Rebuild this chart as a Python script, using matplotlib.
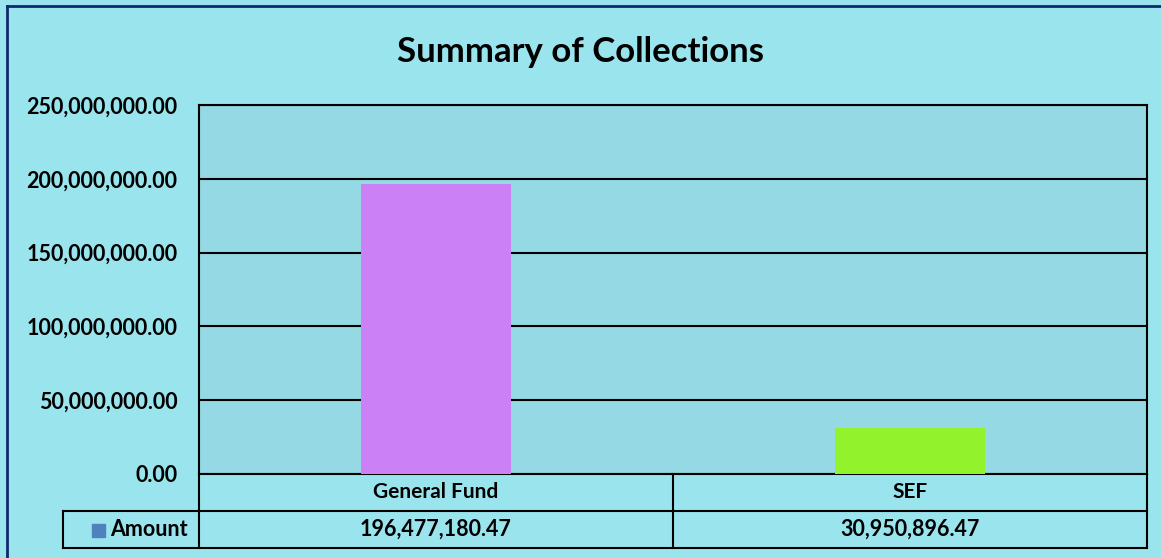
import matplotlib.pyplot as plt
from matplotlib.lines import Line2D
from matplotlib.patches import Rectangle
import numpy as np

categories = ["General Fund", "SEF"]
amounts = [196477180.47, 30950896.47]
series_name = "Amount"
title = "Summary of Collections"
yticks = [0, 50000000, 100000000, 150000000, 200000000, 250000000]

bar_colors = ["#CC80F5", "#92F22B"]
fig_bg = "#9AE4ED"
plot_bg = "#94D9E3"

plt.rcParams['font.family'] = ['Lato', 'DejaVu Sans']
plt.rcParams['font.weight'] = 'bold'

W, H = 1161, 558
fig = plt.figure(figsize=(W / 100, H / 100), dpi=100, facecolor=fig_bg)

# plot area in pixels
x0, x1, y0, y1 = 199, 1147, 105, 474
ax = fig.add_axes([x0 / W, 1 - y1 / H, (x1 - x0) / W, (y1 - y0) / H])
ax.set_facecolor(plot_bg)

x = np.arange(len(categories))
ax.bar(x, amounts, width=0.315, color=bar_colors, zorder=3)
ax.set_xlim(-0.5, len(categories) - 0.5)
ax.set_ylim(0, 250000000)
ax.set_yticks(yticks)
ax.set_yticklabels(["{:,.2f}".format(v) for v in yticks], fontsize=15.5, fontweight='bold')
ax.tick_params(axis='y', length=0, pad=15.5)
ax.set_xticks([])
ax.grid(axis='y', color='black', linewidth=1.5, zorder=2)
for s in ax.spines.values():
    s.set_linewidth(1.5)
    s.set_color('black')

fig.text(0.5, 1 - 62 / H, title, ha='center', va='baseline', fontsize=25, fontweight='bold')

# data table below the plot
ph = y1 - y0
pw = x1 - x0
r1 = -(511 - y1) / ph
r2 = -(548 - y1) / ph
xl = -(x0 - 63) / pw
lkw = dict(transform=ax.transAxes, color='black', linewidth=1.5, clip_on=False)
ax.add_line(Line2D([0, 0], [0, r2], **lkw))
ax.add_line(Line2D([1, 1], [0, r2], **lkw))
ax.add_line(Line2D([0.5, 0.5], [0, r2], **lkw))
ax.add_line(Line2D([xl, 1], [r1, r1], **lkw))
ax.add_line(Line2D([xl, 1], [r2, r2], **lkw))
ax.add_line(Line2D([xl, xl], [r1, r2], **lkw))

n = len(categories)
for i, (c, v) in enumerate(zip(categories, amounts)):
    xc = (i + 0.5) / n
    ax.text(xc, r1 / 2, c, transform=ax.transAxes, ha='center', va='center', fontsize=15, fontweight='bold')
    ax.text(xc, (r1 + r2) / 2, "{:,.2f}".format(v), transform=ax.transAxes, ha='center', va='center',
            fontsize=15.5, fontweight='bold')

# legend key + series name
ax.add_patch(Rectangle(((92 - x0) / pw, -(537 - y1) / ph), 13 / pw, 13 / ph, transform=ax.transAxes,
                       color='#4F81BD', clip_on=False))
ax.text((110 - x0) / pw, (r1 + r2) / 2, series_name, transform=ax.transAxes, ha='left', va='center',
        fontsize=15.5, fontweight='bold')

# outer border (top and left)
fig.add_artist(Line2D([7 / W, 1], [1 - 6 / H, 1 - 6 / H], transform=fig.transFigure, color='#10286E', linewidth=2))
fig.add_artist(Line2D([7 / W, 7 / W], [0, 1 - 6 / H], transform=fig.transFigure, color='#10286E', linewidth=2))

fig.savefig("out.png", dpi=100, facecolor=fig_bg)
